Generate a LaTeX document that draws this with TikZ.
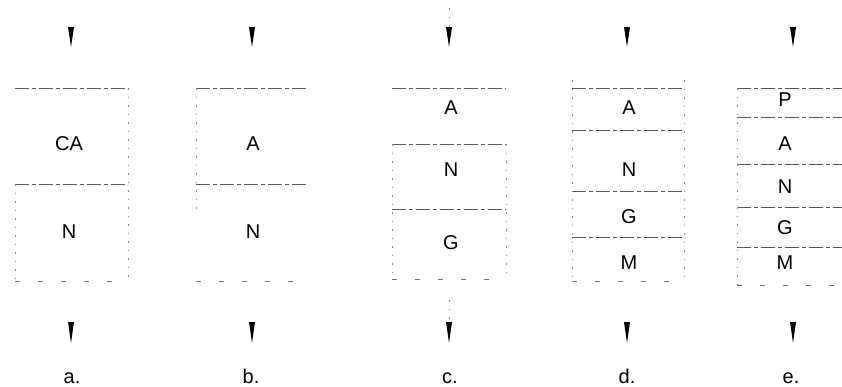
\documentclass[tikz,border=0pt]{standalone}
\usepackage{fontspec}
\setmainfont{Liberation Sans}
\begin{document}
\begin{tikzpicture}[x=1pt,y=-1pt,
  hline/.style={draw=black!65,line width=0.9pt,dash pattern=on 14pt off 3pt on 4pt off 3pt},
  bline/.style={draw=black!55,line width=0.8pt,dash pattern=on 5pt off 18pt},
  vline/.style={draw=black!45,line width=0.7pt,dash pattern=on 1.5pt off 7pt},
  lbl/.style={font=\fontsize{20pt}{22pt}\selectfont,inner sep=0pt,anchor=center},
  captext/.style={font=\fontsize{20pt}{22pt}\selectfont,inner sep=0pt,anchor=base},
  wedge/.style={fill=black}]
\useasboundingbox (0,0) rectangle (842,386);

% ---------- column a ----------
\draw[hline] (15,88) -- (128,88);
\draw[hline] (15,184) -- (128,184);
\draw[bline] (15,281) -- (128,281);
\draw[vline] (128,88) -- (128,281);
\draw[vline] (15,184) -- (15,281);
\node[lbl] (aCA) at (69,144) {CA};
\node[lbl] (aN) at (69,232) {N};
\coordinate (at1) at (71,27); \coordinate (at2) at (71,47);
\coordinate (ab1) at (71,322); \coordinate (ab2) at (71,343);
\fill[wedge] ([xshift=-3pt]at1) -- ([xshift=3pt]at1) -- (at2) -- cycle;
\fill[wedge] ([xshift=-3pt]ab1) -- ([xshift=3pt]ab1) -- (ab2) -- cycle;
\node[captext] (la) at (72,383) {a.};

% ---------- column b ----------
\draw[hline] (196,88) -- (309,88);
\draw[hline] (196,184) -- (309,184);
\draw[bline] (196,281) -- (309,281);
\draw[vline] (196,88) -- (196,210);
\node[lbl] (bA) at (253,144) {A};
\node[lbl] (bN) at (253,232) {N};
\coordinate (bt1) at (252,27); \coordinate (bt2) at (252,47);
\coordinate (bb1) at (252,322); \coordinate (bb2) at (252,343);
\fill[wedge] ([xshift=-3pt]bt1) -- ([xshift=3pt]bt1) -- (bt2) -- cycle;
\fill[wedge] ([xshift=-3pt]bb1) -- ([xshift=3pt]bb1) -- (bb2) -- cycle;
\node[captext] (lb) at (251,383) {b.};

% ---------- column c ----------
\draw[hline] (392,88) -- (506,88);
\draw[hline] (392,144) -- (506,144);
\draw[hline] (392,209) -- (506,209);
\draw[bline] (392,279) -- (506,279);
\draw[vline] (506,144) -- (506,279);
\draw[vline] (392,144) -- (392,279);
\node[lbl] (cA) at (451,108) {A};
\node[lbl] (cN) at (451,170) {N};
\node[lbl] (cG) at (451,243) {G};
\coordinate (ct0) at (449,8);
\coordinate (ct1) at (449,27); \coordinate (ct2) at (449,47);
\coordinate (cb0) at (449,300);
\coordinate (cb1) at (449,322); \coordinate (cb2) at (449,343);
\draw[vline] (ct0) -- (ct1);
\draw[vline] (cb0) -- (cb1);
\fill[wedge] ([xshift=-3pt]ct1) -- ([xshift=3pt]ct1) -- (ct2) -- cycle;
\fill[wedge] ([xshift=-3pt]cb1) -- ([xshift=3pt]cb1) -- (cb2) -- cycle;
\node[captext] (lc) at (450,383) {c.};

% ---------- column d ----------
\draw[hline] (572,88) -- (684,88);
\draw[hline] (572,130) -- (684,130);
\draw[hline] (572,191) -- (684,191);
\draw[hline] (572,237) -- (684,237);
\draw[bline] (572,281) -- (684,281);
\draw[vline] (572,80) -- (572,281);
\draw[vline] (684,80) -- (684,281);
\node[lbl] (dA) at (629,108) {A};
\node[lbl] (dN) at (629,170) {N};
\node[lbl] (dG) at (629,217) {G};
\node[lbl] (dM) at (629,263) {M};
\coordinate (dt1) at (627,27); \coordinate (dt2) at (627,47);
\coordinate (db1) at (627,322); \coordinate (db2) at (627,343);
\fill[wedge] ([xshift=-3pt]dt1) -- ([xshift=3pt]dt1) -- (dt2) -- cycle;
\fill[wedge] ([xshift=-3pt]db1) -- ([xshift=3pt]db1) -- (db2) -- cycle;
\node[captext] (ld) at (627,383) {d.};

% ---------- column e ----------
\draw[hline] (737,88) -- (842,88);
\draw[hline] (737,117) -- (842,117);
\draw[hline] (737,164) -- (842,164);
\draw[hline] (737,207) -- (842,207);
\draw[hline] (737,247) -- (842,247);
\draw[bline] (737,285) -- (842,285);
\draw[vline] (737,88) -- (737,285);
\node[lbl] (eP) at (785,100) {P};
\node[lbl] (eA) at (785,144) {A};
\node[lbl] (eN) at (785,187) {N};
\node[lbl] (eG) at (785,228) {G};
\node[lbl] (eM) at (785,263) {M};
\coordinate (et1) at (793,27); \coordinate (et2) at (793,47);
\coordinate (eb1) at (793,322); \coordinate (eb2) at (793,343);
\fill[wedge] ([xshift=-3pt]et1) -- ([xshift=3pt]et1) -- (et2) -- cycle;
\fill[wedge] ([xshift=-3pt]eb1) -- ([xshift=3pt]eb1) -- (eb2) -- cycle;
\node[captext] (le) at (791,383) {e.};
\end{tikzpicture}
\end{document}
